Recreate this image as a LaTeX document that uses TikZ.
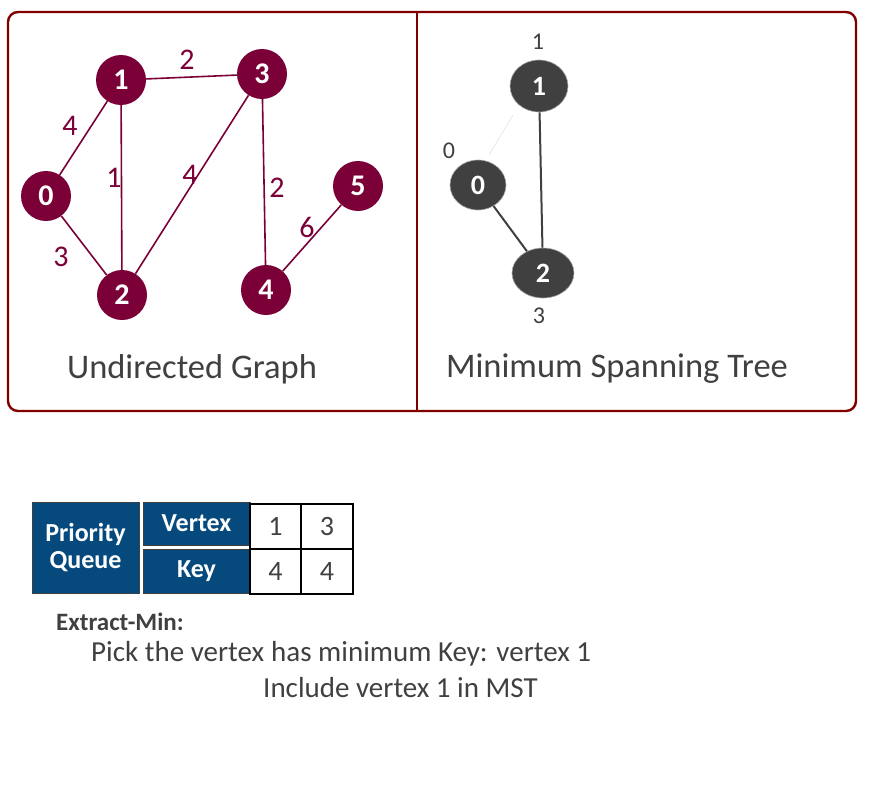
\documentclass[tikz,border=0pt]{standalone}
\usepackage{fontspec}
\setmainfont{Carlito}
\usetikzlibrary{shapes.geometric}
\definecolor{frame}{HTML}{800000}
\definecolor{maroon}{HTML}{7B0037}
\definecolor{dgray}{HTML}{404040}
\definecolor{qblue}{HTML}{064A7D}
\tikzset{
  x=1pt,y=-1pt,
  gnode/.style={circle,fill=maroon,minimum size=50pt,inner sep=0pt,text=white,font=\fontsize{30}{32}\selectfont\bfseries},
  gedge/.style={draw=maroon,line width=1.6pt},
  elabel/.style={text=maroon,font=\fontsize{30}{32}\selectfont},
  tnode/.style={ellipse,fill=dgray,draw=gray!70,line width=0.6pt,inner sep=0pt,text=white,font=\fontsize{28}{30}\selectfont\bfseries},
  tedge/.style={draw=dgray,line width=2pt},
  klabel/.style={text=dgray,font=\fontsize{24}{26}\selectfont},
  caption/.style={text=dgray,font=\fontsize{34.5}{36}\selectfont},
  bluebox/.style={fill=qblue,draw=dgray,line width=1pt,text=white,font=\fontsize{26}{28}\selectfont\bfseries,align=center,inner sep=0pt},
  cell/.style={draw=black,line width=1.2pt,text=dgray,font=\fontsize{28}{30}\selectfont,inner sep=0pt},
  body/.style={text=dgray,font=\fontsize{29}{31}\selectfont,inner sep=0pt,anchor=west}
}
\begin{document}
\begin{tikzpicture}
\useasboundingbox (0,0) rectangle (869,800);
% frames
\draw[frame,line width=2.4pt,rounded corners=10pt] (8,12) rectangle (856,411);
\draw[frame,line width=2.4pt] (417,12) -- (417,411);
% left graph
\node[gnode] (n0) at (46,196) {0};
\node[gnode] (n1) at (121,80) {1};
\node[gnode] (n2) at (122,295) {2};
\node[gnode] (n3) at (262,74) {3};
\node[gnode] (n4) at (266,290) {4};
\node[gnode] (n5) at (358,186) {5};
\path[gedge] (n0) -- (n1);
\path[gedge] (n0) -- (n2);
\path[gedge] (n1) -- (n2);
\path[gedge] (n1) -- (n3);
\path[gedge] (n2) -- (n3);
\path[gedge] (n3) -- (n4);
\path[gedge] (n4) -- (n5);
\node[elabel] (l13) at (187,60) {2};
\node[elabel] (l01) at (70,126) {4};
\node[elabel] (l12) at (114,178) {1};
\node[elabel] (l23) at (190,175) {4};
\node[elabel] (l34) at (277,188) {2};
\node[elabel] (l45) at (307,227) {6};
\node[elabel] (l02) at (61,257) {3};
\node[caption] (cap1) at (192,369) {Undirected Graph};
% right tree
\node[tnode,minimum width=58pt,minimum height=52pt] (t1) at (539,86) {1};
\node[tnode,minimum width=56pt,minimum height=50pt] (t0) at (478,185) {0};
\node[tnode,minimum width=62pt,minimum height=50pt] (t2) at (543,273) {2};
\path[tedge] (t1) -- (t2);
\path[tedge] (t0) -- (t2);
\coordinate (fa) at (513,115);
\coordinate (fb) at (489,155);
\draw[gray!25,line width=0.5pt] (fa) -- (fb);
\node[klabel] (k1) at (538,42) {1};
\node[klabel] (k0) at (449,151) {0};
\node[klabel] (k2) at (539,316) {3};
\node[caption] (cap2) at (617,369) {Minimum Spanning Tree};
% priority queue
\node[bluebox,minimum width=107pt,minimum height=91pt] (pq) at (85.5,547.5) {Priority\\[-1pt]Queue};
\node[bluebox,minimum width=107pt,minimum height=43pt] (vx) at (196.5,523.5) {Vertex};
\node[bluebox,minimum width=107pt,minimum height=44pt] (ky) at (196.5,571) {Key};
\node[cell,minimum width=51pt,minimum height=45pt] (c11) at (275.5,526.5) {1};
\node[cell,minimum width=52pt,minimum height=45pt] (c12) at (327,526.5) {3};
\node[cell,minimum width=51pt,minimum height=45pt] (c21) at (275.5,571.5) {4};
\node[cell,minimum width=52pt,minimum height=45pt] (c22) at (327,571.5) {4};
% text
\node[body,font=\fontsize{25}{27}\selectfont\bfseries] (em) at (56,622) {Extract-Min:};
\node[body] (p1) at (91,652) {Pick the vertex};
\node[body] (p2) at (271,654) {has minimum Key: vertex 1};
\node[body] (p3) at (263,688) {Include vertex 1 in MST};
\end{tikzpicture}
\end{document}
